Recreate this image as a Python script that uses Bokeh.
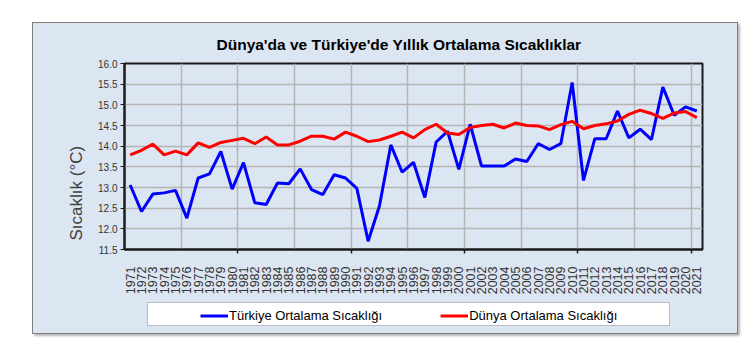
import math
from bokeh.plotting import figure
from bokeh.layouts import column
from bokeh.models import (Range1d, FixedTicker, Legend, LegendItem, Title,
                          PrintfTickFormatter, BoxAnnotation)
from bokeh.embed import file_html
from bokeh.resources import INLINE

# ---------------- data ----------------
years = list(range(1971, 2022))
turkiye = [13.06, 12.42, 12.84, 12.87, 12.93, 12.26, 13.23, 13.33, 13.87, 12.96,
           13.60, 12.63, 12.59, 13.11, 13.09, 13.45, 12.95, 12.83, 13.31, 13.23,
           12.98, 11.70, 12.56, 14.03, 13.37, 13.61, 12.76, 14.10, 14.36, 13.44,
           14.53, 13.52, 13.52, 13.52, 13.69, 13.63, 14.06, 13.92, 14.06, 15.54,
           13.17, 14.18, 14.18, 14.85, 14.20, 14.41, 14.16, 15.43, 14.75, 14.95, 14.85]
dunya = [13.79, 13.90, 14.05, 13.79, 13.88, 13.79, 14.08, 13.97, 14.09, 14.14,
         14.19, 14.06, 14.22, 14.03, 14.03, 14.12, 14.24, 14.24, 14.17, 14.34,
         14.24, 14.11, 14.15, 14.24, 14.34, 14.20, 14.40, 14.53, 14.32, 14.28,
         14.45, 14.50, 14.53, 14.44, 14.56, 14.50, 14.49, 14.40, 14.52, 14.60,
         14.42, 14.50, 14.54, 14.61, 14.77, 14.87, 14.79, 14.67, 14.80, 14.84, 14.69]
y_ticks = [11.5, 12.0, 12.5, 13.0, 13.5, 14.0, 14.5, 15.0, 15.5, 16.0]
title_text = "Dünya'da ve Türkiye'de Yıllık Ortalama Sıcaklıklar"
y_label = "Sıcaklık (°C)"
series_names = ["Türkiye Ortalama Sıcaklığı", "Dünya Ortalama Sıcaklığı"]
series_colors = ["#0000ff", "#ff0000"]

FONT = "Liberation Sans"
PANEL = "#dce6f2"
BL, BR = 91, 35   # left / right borders shared by both stacked figures

# ---------------- main chart ----------------
x0, x1 = years[0] - 0.5, years[-1] + 0.5
p = figure(width=704, height=276, output_backend="svg", toolbar_location=None,
           x_range=Range1d(x0, x1), y_range=Range1d(y_ticks[0], y_ticks[-1]),
           min_border_left=BL, min_border_right=BR, min_border_top=40,
           min_border_bottom=50, background_fill_color=PANEL,
           border_fill_color=PANEL)
p.outline_line_color = "#1a1a1a"
p.outline_line_width = 2

p.ygrid.ticker = FixedTicker(ticks=y_ticks)
p.ygrid.grid_line_color = "#b4b4b4"
p.ygrid.grid_line_width = 1.5
p.xgrid.ticker = FixedTicker(ticks=[y + 0.5 for y in years if (y - 1970) % 5 == 0 and y < years[-1]])
p.xgrid.grid_line_color = "#b4b4b4"
p.xgrid.grid_line_width = 1.5

ya = p.yaxis[0]
ya.ticker = FixedTicker(ticks=y_ticks)
ya.formatter = PrintfTickFormatter(format="%.1f")
ya.axis_line_color = "#1a1a1a"
ya.axis_line_width = 2
ya.major_tick_out = 4
ya.major_tick_in = 0
ya.major_tick_line_color = "#1a1a1a"
ya.minor_tick_line_color = None
ya.major_label_text_font = FONT
ya.major_label_text_font_size = "10px"
ya.major_label_text_color = "#333333"
ya.major_label_standoff = 3

xa = p.xaxis[0]
xa.ticker = FixedTicker(ticks=years,
                        minor_ticks=[y + 0.5 for y in years if (y - 1970) % 10 == 0 and y < years[-1]])
xa.major_label_orientation = math.pi / 2
xa.axis_line_color = "#1a1a1a"
xa.axis_line_width = 2
xa.major_tick_line_color = None
xa.major_tick_out = 0
xa.major_tick_in = 0
xa.minor_tick_line_color = "#1a1a1a"
xa.minor_tick_line_width = 1.5
xa.minor_tick_out = 4
xa.minor_tick_in = 0
xa.major_label_text_font = FONT
xa.major_label_text_font_size = "12.5px"
xa.major_label_text_color = "#333333"
xa.major_label_standoff = 13

p.line(years, turkiye, line_color=series_colors[0], line_width=3)
p.line(years, dunya, line_color=series_colors[1], line_width=3)

p.add_layout(Title(text=title_text, align="left", offset=92, standoff=21,
                   text_line_height=0.8,
                   text_font=FONT, text_font_size="15.5px",
                   text_font_style="bold", text_color="#000000"), "above")
p.add_layout(Title(text=y_label, align="left", offset=9, standoff=20,
                   text_font=FONT, text_font_size="17px",
                   text_font_style="normal", text_color="#404040"), "left")

# ---------------- legend strip (pixel-unit ranges) ----------------
strip_w = 704 - BL - BR
q = figure(width=704, height=34, output_backend="svg", toolbar_location=None,
           x_range=Range1d(0, strip_w), y_range=Range1d(0, 25),
           x_axis_type=None, y_axis_type=None,
           min_border_left=BL, min_border_right=BR, min_border_top=2,
           min_border_bottom=7, background_fill_color=PANEL,
           border_fill_color=PANEL)
q.outline_line_color = None
# legend proxies: same series, lying outside this strip's ranges (clipped)
proxies = [q.line(years, vals, line_color=c, line_width=3)
           for vals, c in zip([turkiye, dunya], series_colors)]
q.add_layout(BoxAnnotation(left=23, right=545, bottom=1, top=24,
                           fill_color="white", fill_alpha=1.0,
                           line_color="#404040", line_width=1))
legend = Legend(items=[LegendItem(label=n, renderers=[r]) for n, r in zip(series_names, proxies)],
                orientation="horizontal", location=(76, 1), margin=0,
                padding=2, spacing=58, glyph_width=28, glyph_height=19,
                label_standoff=1, label_text_font=FONT,
                label_text_font_size="13px", label_text_color="#000000",
                border_line_color=None, background_fill_alpha=0)
q.add_layout(legend, "center")

layout = column(p, q, spacing=0, margin=(22, 0, 0, 32),
                styles={"background-color": PANEL,
                        "border": "1px solid #7f7f7f",
                        "box-shadow": "2px 2px 2px #b8b8b8"})

open("out.html", "w").write(file_html(layout, INLINE))
